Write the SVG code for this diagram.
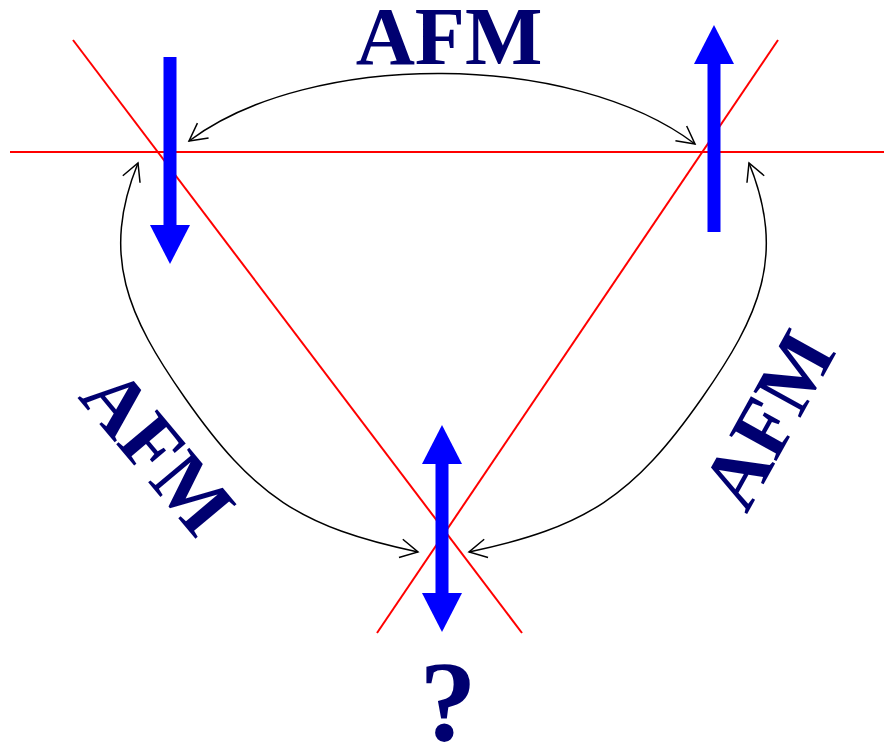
<svg xmlns="http://www.w3.org/2000/svg" width="884" height="744" viewBox="0 0 884 744">
<style>
.red{stroke:#ff0000;stroke-width:2;fill:none}
.blue{fill:#0000ff;stroke:none}
.conn{stroke:#000;stroke-width:1.5;fill:none;marker-start:url(#vh);marker-end:url(#vh)}
.lbl{font-family:"Liberation Serif","Times New Roman",serif;font-weight:bold;fill:#000070;text-anchor:middle}
</style>
<defs>
<marker id="vh" markerUnits="userSpaceOnUse" viewBox="-20 -12 24 24" markerWidth="24" markerHeight="24" refX="0" refY="0" orient="auto-start-reverse">
<path d="M-17.5,-9.3 L0,0 L-17.5,9.3" fill="none" stroke="#000" stroke-width="1.5"/>
</marker>
</defs>
<rect width="884" height="744" fill="#fff"/>
<g id="lines">
<line class="red" x1="10" y1="152" x2="884" y2="152"/>
<line class="red" x1="73" y1="40" x2="522" y2="633"/>
<line class="red" x1="778" y1="40" x2="377" y2="633"/>
</g>
<g id="spin-down">
<rect class="blue" x="163.5" y="57" width="13" height="169"/>
<polygon class="blue" points="150,225 190,225 170,264"/>
</g>
<g id="spin-up">
<rect class="blue" x="707.5" y="63" width="13" height="169"/>
<polygon class="blue" points="694,64 734,64 714,25"/>
</g>
<g id="spin-unknown">
<rect class="blue" x="435.5" y="463" width="13" height="131"/>
<polygon class="blue" points="422,464 462,464 442,425"/>
<polygon class="blue" points="422,593 462,593 442,632"/>
</g>
<g id="connectors">
<path class="conn" d="M189,141 C311,49.5 573,51.5 695,144"/>
<path class="conn" d="M138,163 C100.4,255.7 127.6,316.1 185,398 C253.9,496.3 300.6,527.2 418,552"/>
<path class="conn" d="M749,163 C786.6,255.7 759.4,316.1 702,398 C633.1,496.3 586.4,527.2 469,552"/>
</g>
<g id="labels">
<text class="lbl" x="449" y="64" font-size="82">AFM</text>
<text class="lbl" font-size="82" transform="translate(137,469) rotate(50)">AFM</text>
<text class="lbl" font-size="82" transform="translate(792,433) rotate(-61)">AFM</text>
<text class="lbl" x="448" y="740" font-size="114">?</text>
</g>
</svg>
